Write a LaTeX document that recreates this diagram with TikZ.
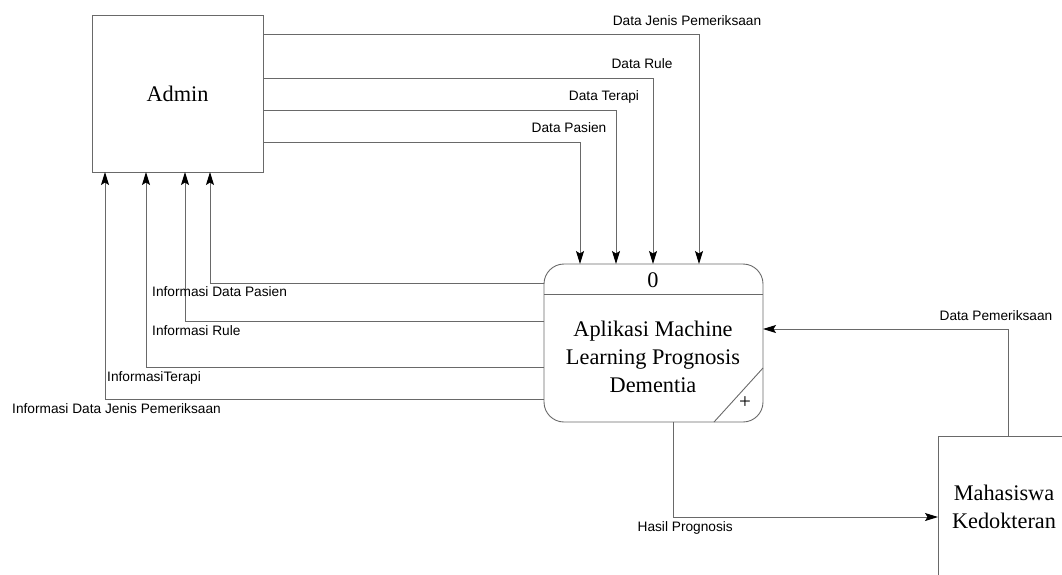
\documentclass[tikz,border=0pt]{standalone}
\usepackage{fontspec}
\setmainfont{Liberation Serif}
\setsansfont{Liberation Sans}
\usetikzlibrary{arrows.meta}
\definecolor{ln}{RGB}{105,105,105}
\tikzset{
  flow/.style={draw=ln, line width=0.9pt, -{Stealth[length=13pt,width=8pt,inset=2.5pt,fill=black,color=black]}},
  ent/.style={draw=ln, line width=0.9pt, inner sep=0pt, outer sep=0pt, font=\fontsize{22.3}{28}\selectfont, align=center},
  lbl/.style={inner sep=0pt, font=\sffamily\fontsize{13.7}{16}\selectfont, text height=0.72em, text depth=0.02em},
}
\begin{document}
\begin{tikzpicture}[x=1pt,y=-1pt]
\useasboundingbox (0,0) rectangle (1062,574);
% entities
\node[ent, minimum width=171pt, minimum height=157pt] (admin) at (177.5,93.5) {Admin};
\node[ent, minimum width=132pt, minimum height=142pt] (mhs) at (1004,507) {Mahasiswa\\Kedokteran};
% process
\node[ent, rounded corners=20pt, minimum width=219pt, minimum height=158pt] (proc) at (653.5,343) {};
\draw[draw=ln, line width=0.9pt] (proc.west |- 0,294) -- (proc.east |- 0,294);
\node[inner sep=0pt, font=\fontsize{22.3}{28}\selectfont] (pid) at (653,280) {0};
\node[inner sep=0pt, font=\fontsize{22.3}{28}\selectfont, align=center] (pname) at (653,357) {Aplikasi Machine\\Learning Prognosis\\Dementia};
\draw[draw=ln, line width=0.9pt] (proc.south -| 714,0) -- (proc.east |- 0,368);
\node[inner sep=0pt, font=\fontsize{21}{24}\selectfont] (plus) at (745,403) {+};
% flows admin -> process
\draw[flow] (admin.east |- 0,34) -| (proc.north -| 699,0);
\draw[flow] (admin.east |- 0,78) -| (proc.north -| 653,0);
\draw[flow] (admin.east |- 0,110) -| (proc.north -| 616,0);
\draw[flow] (admin.east |- 0,142) -| (proc.north -| 580,0);
% flows process -> admin
\draw[flow] (proc.west |- 0,283) -| (admin.south -| 210,0);
\draw[flow] (proc.west |- 0,321) -| (admin.south -| 185,0);
\draw[flow] (proc.west |- 0,367) -| (admin.south -| 146,0);
\draw[flow] (proc.west |- 0,399) -| (admin.south -| 105,0);
% flows with mahasiswa
\draw[flow] (mhs.north -| 1008,0) |- (proc.east |- 0,329);
\draw[flow] (proc.south -| 673,0) |- (mhs.west |- 0,517);
% labels
\node[lbl] (l1) at (687,22) {Data Jenis Pemeriksaan};
\node[lbl] (l2) at (642,65) {Data Rule};
\node[lbl] (l3) at (604,97) {Data Terapi};
\node[lbl] (l4) at (569,129) {Data Pasien};
\node[lbl, anchor=west] (l5) at (152,293) {Informasi Data Pasien};
\node[lbl, anchor=west] (l6) at (152,332) {Informasi Rule};
\node[lbl, anchor=west] (l7) at (107,378) {InformasiTerapi};
\node[lbl, anchor=west] (l8) at (12,410) {Informasi Data Jenis Pemeriksaan};
\node[lbl] (l9) at (996,317) {Data Pemeriksaan};
\node[lbl, anchor=east] (l10) at (733,528) {Hasil Prognosis};
\end{tikzpicture}
\end{document}
